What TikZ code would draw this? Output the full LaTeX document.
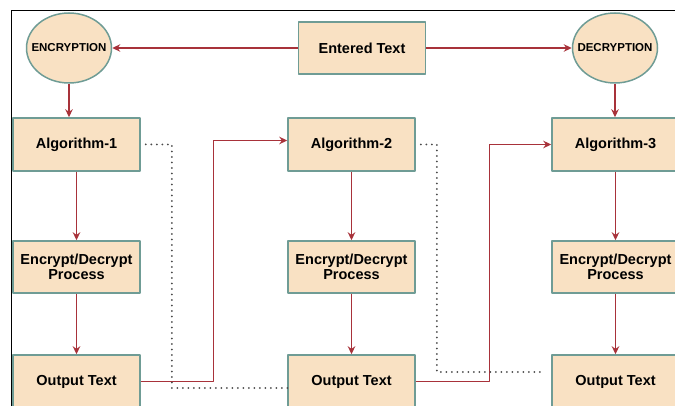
\documentclass[tikz,border=0pt]{standalone}
\usepackage{fontspec}
\setmainfont{Liberation Sans}
\usetikzlibrary{shapes.geometric,arrows.meta}
\definecolor{boxfill}{HTML}{F9E1C3}
\definecolor{boxline}{HTML}{6F9C95}
\definecolor{flow}{HTML}{A8323A}
\definecolor{dots}{HTML}{4A4A4A}
\newcommand{\ovaltext}[1]{\makebox[0pt][c]{#1}}
\begin{document}
\begin{tikzpicture}[x=1pt,y=-1pt, line join=round, >={Stealth[length=8pt,width=7.5pt]},
		blk/.style={draw=boxline, fill=boxfill, line width=1.5pt, minimum width=127pt, minimum height=53pt, align=center, font=\bfseries\fontsize{14.5}{15}\selectfont},
		oval/.style={ellipse, draw=boxline, fill=boxfill, line width=1.5pt, minimum width=85pt, minimum height=70pt, inner sep=0pt, font=\bfseries\fontsize{11.5}{13}\selectfont},
		link/.style={draw=flow, line width=1.4pt, ->},
		dotlink/.style={draw=dots, line width=2pt, line cap=round, dash pattern=on 0pt off 5.5pt}]
				\useasboundingbox (0,0) rectangle (675,406);
				\clip (0,0) rectangle (675,406);
				\draw[line width=1pt] (675,11)--(11,11)--(11,406);
				% top row
				\node[oval] (enc) at (69,48) {\ovaltext{ENCRYPTION}};
				\node[blk, minimum height=52pt] (entered) at (362,48) {Entered Text};
				\node[oval] (dec) at (615,48) {\ovaltext{DECRYPTION}};
				% three columns
				\foreach \c/\x in {1/76.5, 2/351.5, 3/615.5}{
					\node[blk] (alg\c) at (\x,144.5) {Algorithm-\c};
					\node[blk, minimum height=52pt] (proc\c) at (\x,267) {Encrypt/Decrypt\\Process};
					\node[blk] (out\c) at (\x,381.5) {Output Text};
					\draw[link] (alg\c)--(proc\c);
					\draw[link] (proc\c)--(out\c);
				}
				\draw[link] (entered.west)--(enc.east);
				\draw[link] (entered.east)--(dec.west);
				\draw[link] (enc.south)--(enc.south |- alg1.north);
				\draw[link] (dec.south)--(dec.south |- alg3.north);
				% hand-over between columns
				\draw[link] (out1.east)--++(73,0) |- ([yshift=4pt]alg2.west);
				\draw[link] (out2.east)--++(74,0) |- (alg3.west);
				\draw[dotlink] ([xshift=5pt]alg1.east)--++(26,0) |- ([yshift=-6.5pt]out2.west);
				\draw[dotlink] ([xshift=5pt]alg2.east)--++(16,0) |- ([xshift=-9pt,yshift=9.5pt]out3.west);
		\end{tikzpicture}
\end{document}
